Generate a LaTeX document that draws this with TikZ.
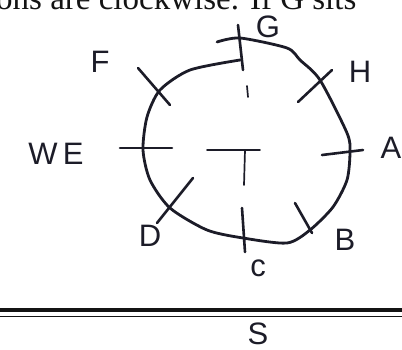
\documentclass[tikz,border=0pt]{standalone}
\usepackage{fontspec}
\setmainfont{Liberation Serif}
\newfontfamily\handfont{Liberation Sans}
\usetikzlibrary{positioning,calc}
\definecolor{ink}{RGB}{28,28,40}
\definecolor{printink}{RGB}{20,20,20}

\begin{document}
\begin{tikzpicture}[
  x=1pt, y=-1pt,
  pen/.style={draw=ink, line width=2.8pt, line cap=round, line join=round},
  tickmark/.style={pen, line width=2.6pt},
  faint/.style={draw=ink, line width=1.7pt, line cap=round},
  lbl/.style={text=ink, font=\handfont\fontsize{31}{31}\selectfont, inner sep=0pt},
  rule/.style={draw=printink, line cap=butt}
]
\useasboundingbox (0,0) rectangle (402,349);
\clip (0,0) rectangle (402,349);
% printed text, cut by the scan
\node[anchor=base west, inner sep=0pt, text=printink, font=\fontsize{33}{33}\selectfont] (caption) at (-4,9) {ons are clockwise. If G sits};
% the hand drawn circle
\draw[pen] plot[smooth, tension=0.45] coordinates {
  (240,60) (190,70) (160,90) (147,117) (143,150) (150,180) (170,208)
  (207,230) (243,238) (287,243) (310,230) (333,207) (347,180) (350,152)
  (347,133) (320,80) (300,60) (287,48) (240,38) (217,42)};
% direction marks
\draw[tickmark] (238,25) -- (243,70);   % G
\draw[tickmark] (298,102) -- (332,70);  % H
\draw[tickmark] (322,155) -- (363,150); % A
\draw[tickmark] (295,203) -- (312,233); % B
\draw[tickmark] (242,208) -- (245,252); % C
\draw[tickmark] (193,178) -- (157,223); % D
\draw[tickmark] (120,148) -- (172,148); % W
\draw[tickmark] (138,68) -- (170,105);  % F
% centre
\draw[faint] (207,150) -- (260,150);
\draw[faint] (245,150) -- (244,185);
\draw[faint] (247,86) -- (248,97);
% labels
\node[lbl] (F) at (100,62) {F};
\node[lbl] (G) at (268,27) {G};
\node[lbl] (H) at (360,72) {H};
\node[lbl] (A) at (391,148) {A};
\node[lbl] (B) at (345,240) {B};
\node[lbl] (C) at (258,268) {c};
\node[lbl] (D) at (150,236) {D};
\node[lbl] (WE) at (56,154) {W\,E};
% ruler at the foot
\draw[rule, line width=3.6pt] (0,310) -- (402,310);
\draw[rule, line width=1.4pt] (0,316.5) -- (402,316.5);
\node[lbl] (S) at (258,334) {S};
\end{tikzpicture}
\end{document}
